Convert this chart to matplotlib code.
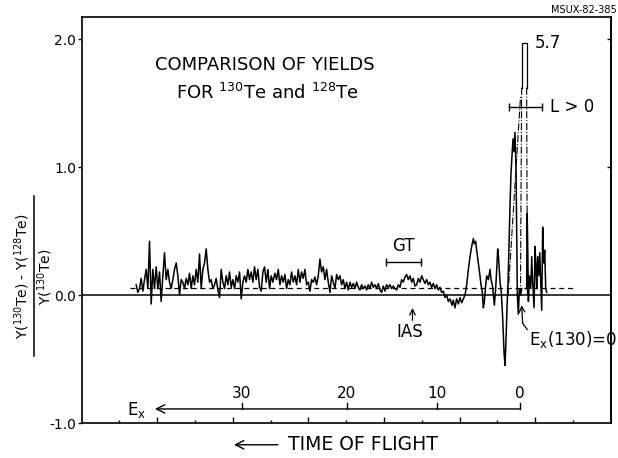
import matplotlib.pyplot as plt
import numpy as np
from matplotlib.lines import Line2D

# relative yield difference vs. time-of-flight channel
seg1_y = [0.08, 0.02, 0.05, 0.13, 0.03, 0.12, 0.20, 0.05, 0.42, -0.07,
          0.20, 0.05, 0.22, 0.05, 0.18, -0.05, 0.15, 0.33, 0.12, 0.20,
          0.10, 0.05, 0.12, 0.20, 0.25, 0.15, 0.00, 0.12, 0.10, 0.05,
          0.13, 0.08, 0.17, 0.05, 0.15, 0.08, 0.20, 0.10, 0.32, 0.05,
          0.20, 0.25, 0.36, 0.20, 0.10, 0.12, 0.05, 0.08, 0.13, 0.04,
          -0.02, 0.20, 0.10, 0.05, 0.15, 0.08, 0.18, 0.06, 0.12, 0.05,
          0.15, 0.10, 0.18, -0.03, 0.10, 0.15, 0.10, 0.20, 0.12, 0.18,
          0.10, 0.22, 0.12, 0.20, 0.06, 0.03, 0.18, 0.22, 0.10, 0.20,
          0.05, 0.15, 0.10]
seg2_y = [0.17, 0.12, 0.20, 0.08, 0.15, 0.10, 0.16, 0.05, 0.12, 0.08,
          0.18, 0.10, 0.15, 0.08, 0.20, 0.10, 0.18, 0.13, 0.20, 0.08,
          0.10, 0.03, 0.12, 0.10, 0.14, 0.08, 0.15, 0.28, 0.18, 0.22,
          0.12, 0.20, 0.10, 0.02, 0.15, 0.10, 0.05, 0.16, 0.12, 0.15,
          0.08, 0.12, 0.05, 0.10, 0.04, 0.10, 0.06, 0.09, 0.05, 0.10,
          0.06, 0.04, 0.08, 0.05, 0.07, 0.04, 0.08, 0.05, 0.10, 0.06,
          0.08, 0.05, 0.09, 0.04, 0.02, 0.07, 0.03, 0.08, 0.06, 0.08,
          0.05, 0.07, 0.05, 0.04, 0.08, 0.06, 0.12, 0.10, 0.14, 0.16,
          0.12, 0.15, 0.10, 0.13, 0.07, 0.08, 0.13, 0.10, 0.15, 0.12,
          0.09, 0.12, 0.08, 0.10, 0.06, 0.09, 0.05, 0.08, 0.04, 0.06,
          0.02, 0.03, -0.02, 0.00, -0.05, -0.03]
seg3_x = [489.9, 491.6, 493.8, 496.0, 498.3, 500.5, 502.7, 504.9, 507.1, 509.3,
          511.5, 513.7, 515.9, 518.1, 519.4, 521.2, 522.5, 524.7, 526.9, 528.2,
          530.0, 531.3, 532.7, 534.0, 535.7, 537.9, 540.2, 541.5, 543.2, 544.6,
          545.9, 547.6, 549.0, 550.3, 551.6, 553.4, 555.1, 556.9, 558.7, 560.0,
          561.3, 562.6, 564.0, 565.3, 566.6, 567.9, 569.3, 570.6, 571.9, 573.2,
          574.5, 575.4, 576.3, 577.6, 579.0, 580.7, 582.0, 585.0, 588.6, 589.3,
          590.2, 590.9, 592.2, 594.0, 595.3, 596.6, 598.4, 599.7, 601.0, 601.9,
          603.2, 604.5, 605.9, 607.2, 608.5, 609.8, 611.2, 612.5, 613.8, 615.1]
seg3_y = [-0.08, -0.04, -0.10, -0.03, -0.07, -0.02, -0.06, -0.03, 0.00, 0.08,
          0.20, 0.30, 0.38, 0.44, 0.40, 0.42, 0.35, 0.25, 0.15, 0.08,
          0.02, -0.10, -0.05, 0.05, 0.15, 0.12, 0.20, 0.12, 0.08, 0.00,
          -0.08, 0.05, 0.20, 0.36, 0.28, 0.10, 0.02, -0.18, -0.45, -0.55,
          -0.35, -0.10, 0.10, 0.40, 0.70, 0.95, 1.10, 1.22, 1.12, 1.27,
          1.00, 0.50, 0.00, -0.15, 0.05, 0.00, 0.05, np.nan, 0.05, 0.64,
          0.30, -0.05, 0.15, 0.05, 0.30, 0.10, -0.10, 0.38, 0.20, 0.05,
          0.30, 0.15, 0.33, 0.10, -0.12, 0.53, 0.25, 0.35, 0.05, 0.02]
seg1_x = np.linspace(72.2, 253.0, len(seg1_y))
seg2_x = np.linspace(255.7, 487.2, len(seg2_y))

# off-scale peak at Ex = 0 (value 5.7, cut at top of the frame)
peak_edges = [582.0, 588.6]
peak_value = 5.7
peak_clip = 1.97
peak_knee = 1.62
env_left_x = [564.0, 580.5]
env_left_y = [0.0, 1.55]
env_foot = [580.4, 589.6]

avg_level = 0.055
avg_range = [64, 652]

ex_labels = [30, 20, 10, 0]
ex_channels = [212, 351, 470, 580]

gt_range = [402.5, 449.0]
l_range = [565.2, 608.9]

fig = plt.figure(figsize=(6.18, 4.58), dpi=100)
ax = fig.add_axes([0.132, 0.0764, 0.8565, 0.8865])
ax.set_xlim(0, 700)
ax.set_ylim(-1.0, 2.172)

for s in ax.spines.values():
    s.set_linewidth(1.2)

ax.set_xticks(np.arange(100, 700, 100))
ax.set_xticks(np.arange(50, 700, 100), minor=True)
ax.tick_params(axis='x', which='both', direction='in', labelbottom=False)
ax.tick_params(axis='x', which='major', length=4, width=1)
ax.tick_params(axis='x', which='minor', length=2.5, width=1)
ax.set_yticks([-1, 0, 1, 2])
ax.set_yticklabels(['-1.0', '0.0', '1.0', '2.0'], fontsize=10)
ax.tick_params(axis='y', direction='out', length=3, width=1, pad=1)
right = ax.secondary_yaxis('right')
right.set_yticks([1, 2])
right.tick_params(direction='in', length=3, width=1, labelright=False)
right.spines['right'].set_linewidth(1.2)

ax.axhline(0, color='k', lw=1.1)
ax.plot(avg_range, [avg_level, avg_level], color='k', lw=0.9, ls=(0, (4, 3)))

x_all = np.concatenate([seg1_x, seg2_x, seg3_x])
y_all = np.concatenate([seg1_y, seg2_y, seg3_y])
ax.plot(x_all, y_all, color='k', lw=1.1)

top = min(peak_value, peak_clip)
e0, e1 = peak_edges
ax.plot([e0, e0, e1, e1], [peak_knee, top, top, peak_knee], color='k', lw=0.9)
ax.plot([env_foot[0], e0], [0, peak_knee], color='k', lw=0.8, ls='-.')
ax.plot([e1, env_foot[1]], [peak_knee, 0], color='k', lw=0.8, ls='-.')
ax.plot(env_left_x, env_left_y, color='k', lw=0.8, ls='-.')
ax.text(599.6, top, '%.1f' % peak_value, fontsize=12, ha='left', va='center')

# L > 0 range
ax.plot(l_range, [1.47, 1.47], color='k', lw=1, marker='|', ms=6, mew=1)
ax.text(619.5, 1.47, 'L > 0', fontsize=12, ha='left', va='center')

# GT range and IAS
ax.plot(gt_range, [0.26, 0.26], color='k', lw=1, marker='|', ms=6, mew=1)
ax.text(np.mean(gt_range), 0.38, 'GT', fontsize=12, ha='center', va='center')
ax.annotate('', xy=(437.6, -0.08), xytext=(437.6, -0.22),
            arrowprops=dict(arrowstyle='->,head_length=0.4,head_width=0.2', lw=0.9))
ax.text(434, -0.29, 'IAS', fontsize=12, ha='center', va='center')

# Ex(130)=0 marker
ax.annotate('', xy=(582.0, -0.08), xytext=(583.3, -0.22),
            arrowprops=dict(arrowstyle='->,head_length=0.4,head_width=0.2', lw=0.9,
                            shrinkA=0, shrinkB=0))
ax.plot([583.3, 589.4], [-0.22, -0.27], color='k', lw=0.9)
ax.text(592, -0.35, r'E$_\mathregular{x}$(130)=0', fontsize=12, ha='left', va='center')

# excitation energy scale
ex_y = -0.89
ax.annotate('', xy=(97, ex_y), xytext=(ex_channels[-1], ex_y),
            arrowprops=dict(arrowstyle='->,head_length=0.6,head_width=0.3', lw=1,
                            shrinkA=0, shrinkB=0))
for c, v in zip(ex_channels, ex_labels):
    ax.plot([c, c], [ex_y, ex_y + 0.05], color='k', lw=1)
    ax.text(c, -0.77, str(v), fontsize=11, ha='center', va='center')
ax.text(73, -0.9, r'E$_\mathregular{x}$', fontsize=12, ha='center', va='center')

ax.text(242, 1.80, 'COMPARISON OF YIELDS', fontsize=13, ha='center', va='center')
ax.text(246, 1.58, r'FOR $^{130}$Te and $^{128}$Te', fontsize=13, ha='center', va='center')

ax.annotate('', xy=(201.5, -1.17), xytext=(259.7, -1.17), annotation_clip=False,
            arrowprops=dict(arrowstyle='->,head_length=0.6,head_width=0.3', lw=1,
                            shrinkA=0, shrinkB=0))
ax.text(272.9, -1.17, 'TIME OF FLIGHT', fontsize=13.5, ha='left', va='center',
        clip_on=False)

# y label as a stacked fraction
fig.text(32 / 618, 0.397, r'Y($^{130}$Te) - Y($^{128}$Te)', rotation=90,
         fontsize=10, ha='right', va='center')
fig.text(35.5 / 618, 0.395, r'Y($^{130}$Te)', rotation=90, fontsize=10,
         ha='left', va='center')
fig.add_artist(Line2D([33.8 / 618, 33.8 / 618], [0.223, 0.572], color='k', lw=1.1,
                      transform=fig.transFigure))

fig.text(0.998, 0.978, 'MSUX-82-385', fontsize=7, ha='right', va='center')

fig.savefig('out.png', dpi=100)
